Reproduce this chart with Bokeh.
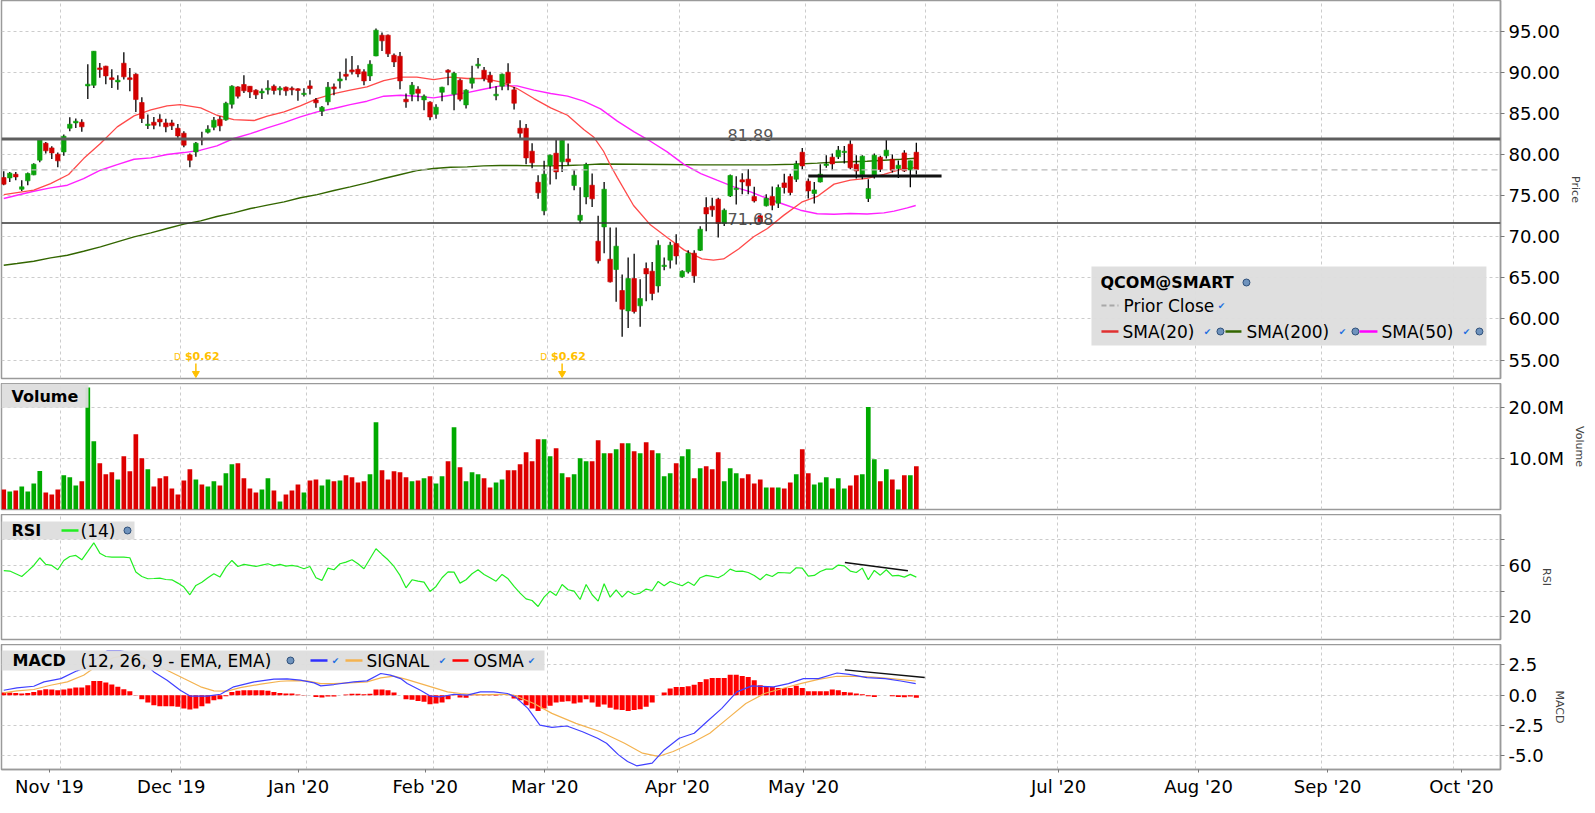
from bokeh.plotting import figure
from bokeh.layouts import column
from bokeh.models import Range1d, FixedTicker, NumeralTickFormatter, Span
from bokeh.core.properties import value
from bokeh.embed import file_html
from bokeh.resources import INLINE

# ---------------- data (QCOM daily, Oct 18 2019 .. May 28 2020) ----------------
open_ = [
77.20, 77.16, 77.61, 75.78, 76.80, 77.53, 79.31, 81.38, 80.81, 80.04,
80.32, 83.20, 83.85, 83.93, 88.35, 88.43, 90.54, 90.75, 89.33, 88.84,
91.11, 89.33, 89.77, 86.33, 83.53, 83.93, 84.30, 83.85, 83.85, 83.20,
82.60, 79.96, 80.32, 81.95, 82.72, 83.33, 84.30, 84.22, 86.12, 88.23,
88.52, 88.31, 87.83, 87.50, 87.87, 88.31, 87.87, 88.19, 88.07, 87.99,
87.30, 88.35, 86.65, 85.27, 86.41, 88.23, 88.96, 89.77, 90.30, 90.38,
90.06, 89.57, 92.00, 94.52, 94.52, 92.08, 91.96, 86.73, 87.34, 87.95,
86.65, 86.37, 84.91, 87.58, 90.26, 87.34, 89.04, 86.04, 88.68, 90.79,
90.26, 89.65, 87.14, 88.31, 90.02, 87.87, 83.20, 83.20, 80.41, 76.63,
73.15, 78.66, 80.16, 79.11, 79.47, 76.23, 72.01, 74.85, 76.27, 69.46,
71.20, 67.27, 66.01, 63.46, 60.98, 64.92, 61.59, 66.13, 65.81, 64.02,
66.38, 67.15, 69.17, 65.12, 65.73, 68.00, 68.36, 73.55, 73.72, 74.57,
71.61, 74.97, 75.74, 76.92, 77.00, 74.89, 72.54, 73.76, 74.89, 74.08,
76.55, 77.32, 77.00, 80.28, 76.76, 75.26, 76.67, 78.66, 79.68, 79.72,
80.24, 81.26, 78.82, 77.53, 74.65, 77.49, 79.68, 79.84, 79.43, 78.30,
80.20, 78.13, 80.28]

high = [
77.97, 77.89, 77.89, 76.88, 77.81, 78.95, 81.87, 81.54, 81.01, 80.24,
82.43, 84.54, 84.38, 84.30, 90.99, 92.60, 91.15, 90.80, 90.38, 89.65,
92.45, 90.54, 89.89, 86.97, 84.87, 84.58, 84.91, 84.34, 84.22, 83.73,
82.84, 80.12, 81.54, 82.76, 83.57, 84.58, 84.66, 86.41, 88.43, 88.31,
89.65, 88.35, 87.95, 88.03, 89.04, 88.52, 88.31, 88.27, 88.27, 88.07,
88.07, 89.04, 86.89, 85.92, 88.84, 88.64, 90.06, 91.68, 92.00, 90.87,
90.38, 91.48, 95.33, 94.84, 94.60, 92.29, 92.49, 87.42, 88.84, 88.31,
87.30, 86.49, 86.12, 88.25, 90.38, 90.06, 89.25, 87.95, 90.79, 91.76,
90.66, 90.06, 88.31, 89.85, 91.11, 88.23, 84.18, 83.73, 81.38, 77.49,
79.23, 80.00, 81.95, 81.87, 81.34, 78.09, 76.03, 78.99, 77.69, 72.54,
76.67, 71.12, 71.12, 65.40, 67.47, 67.92, 64.83, 66.86, 66.94, 69.58,
67.47, 69.38, 70.31, 65.93, 68.36, 68.36, 71.28, 74.81, 74.73, 74.73,
73.43, 77.57, 77.36, 77.73, 78.22, 76.07, 72.70, 75.17, 76.11, 76.35,
77.65, 77.65, 79.23, 80.81, 77.08, 76.67, 78.82, 79.92, 80.12, 81.05,
81.05, 81.74, 79.92, 79.92, 77.00, 80.12, 79.84, 81.82, 80.00, 79.27,
80.53, 79.27, 81.42]

low = [
76.27, 76.67, 76.88, 75.58, 76.27, 77.49, 79.07, 80.12, 79.47, 78.46,
79.84, 82.84, 83.24, 82.76, 86.77, 88.11, 89.33, 88.56, 88.11, 87.87,
89.12, 87.70, 85.19, 83.85, 83.12, 83.08, 83.41, 82.72, 83.00, 82.03,
80.89, 78.46, 79.72, 81.14, 82.55, 82.96, 82.84, 84.10, 85.60, 86.81,
87.50, 86.89, 86.77, 86.77, 87.30, 87.30, 87.22, 87.14, 87.22, 86.53,
87.06, 87.30, 85.68, 84.70, 86.00, 87.22, 88.03, 89.04, 89.73, 89.41,
88.43, 88.96, 91.95, 92.61, 91.88, 90.66, 87.95, 85.68, 86.49, 86.49,
85.39, 84.18, 84.34, 86.49, 88.43, 85.39, 86.49, 85.60, 88.03, 90.46,
88.92, 88.03, 86.61, 87.83, 87.83, 85.47, 81.95, 78.82, 78.34, 74.61,
72.62, 76.35, 77.00, 77.89, 78.70, 75.66, 71.61, 73.96, 73.63, 66.74,
68.00, 64.43, 62.08, 57.82, 58.91, 60.66, 59.04, 62.16, 62.28, 63.21,
65.93, 66.13, 66.62, 65.00, 65.52, 64.39, 68.28, 70.67, 72.42, 69.90,
71.32, 74.85, 73.92, 75.17, 75.17, 74.16, 71.73, 73.67, 73.23, 73.51,
75.26, 75.05, 76.67, 78.18, 74.65, 74.04, 76.59, 78.38, 78.09, 79.47,
78.91, 78.22, 77.08, 77.00, 74.24, 77.08, 77.89, 79.51, 77.81, 77.16,
77.89, 76.03, 77.57]

close = [
76.39, 77.73, 77.28, 76.07, 77.69, 78.82, 81.78, 80.45, 80.20, 79.23,
82.23, 83.69, 84.06, 83.37, 88.56, 92.57, 90.34, 89.57, 89.12, 89.04,
89.45, 89.12, 86.69, 84.38, 83.69, 83.57, 83.97, 83.37, 83.49, 82.27,
81.14, 79.31, 81.38, 81.78, 83.08, 84.18, 83.49, 86.24, 88.31, 87.10,
87.75, 87.62, 87.26, 87.70, 88.07, 87.79, 88.07, 87.75, 87.87, 87.79,
87.46, 88.03, 86.29, 85.76, 88.19, 87.99, 89.20, 89.53, 90.06, 89.81,
88.96, 90.99, 95.13, 93.83, 92.25, 91.27, 88.96, 86.41, 88.43, 87.46,
87.10, 84.58, 85.76, 88.19, 90.02, 89.89, 86.73, 87.83, 89.29, 90.99,
89.25, 88.80, 87.34, 89.77, 88.68, 86.24, 82.60, 79.59, 78.99, 75.34,
77.61, 79.92, 77.89, 81.74, 79.11, 77.49, 72.62, 78.78, 74.61, 67.07,
75.78, 64.51, 68.85, 61.18, 64.92, 60.90, 62.48, 65.48, 63.09, 68.97,
66.54, 68.97, 67.67, 65.81, 68.00, 65.24, 70.92, 72.78, 73.27, 71.61,
73.23, 77.45, 75.90, 76.67, 76.19, 74.36, 71.81, 74.69, 73.84, 75.99,
75.99, 75.38, 78.86, 78.62, 75.58, 75.70, 77.61, 78.86, 78.86, 80.53,
80.41, 78.38, 78.01, 79.80, 75.86, 79.92, 78.18, 80.53, 78.09, 78.70,
78.01, 79.23, 78.18]

volume_m = [
3.93, 3.54, 3.74, 4.52, 3.54, 5.11, 7.54, 3.34, 2.95, 3.93,
6.69, 6.30, 4.72, 5.51, 23.93, 13.38, 9.05, 6.89, 7.28, 5.90,
10.43, 7.48, 14.75, 10.03, 7.87, 4.52, 6.10, 6.49, 4.13, 2.95,
5.70, 7.87, 5.90, 4.92, 4.52, 5.51, 4.72, 7.08, 8.85, 9.05,
6.10, 4.13, 3.34, 3.93, 6.10, 3.74, 1.57, 2.95, 3.74, 4.92,
3.34, 5.70, 5.90, 4.72, 5.90, 5.51, 5.70, 6.69, 6.30, 5.31,
5.51, 6.89, 17.11, 7.67, 5.90, 7.48, 7.28, 6.30, 5.51, 5.70,
6.10, 6.49, 5.11, 6.49, 9.44, 16.13, 8.26, 5.51, 7.28, 6.89,
6.10, 4.33, 5.31, 5.90, 7.67, 7.67, 8.85, 11.21, 9.44, 13.77,
13.77, 10.43, 12.00, 7.08, 6.30, 6.89, 10.03, 9.44, 9.44, 13.57,
11.02, 11.02, 11.80, 12.98, 12.98, 11.41, 11.02, 13.18, 11.61, 11.02,
6.49, 7.08, 9.05, 10.43, 11.80, 6.10, 8.07, 8.46, 7.87, 11.21,
5.51, 8.07, 7.08, 6.10, 6.89, 5.11, 5.90, 4.33, 4.33, 4.33,
4.13, 5.31, 6.89, 11.80, 7.08, 4.92, 5.31, 6.30, 4.13, 6.10,
4.13, 4.72, 6.69, 6.89, 20.07, 9.84, 5.51, 7.87, 5.90, 3.93,
6.69, 6.69, 8.46]

rsi14 = [
56.0, 55.6, 53.5, 51.4, 55.6, 60.0, 66.0, 60.8, 60.0, 56.6,
63.9, 67.0, 67.8, 64.4, 71.0, 77.7, 69.6, 67.0, 66.5, 66.5,
66.5, 66.0, 54.8, 51.4, 49.6, 49.8, 50.1, 49.0, 48.8, 46.2,
43.1, 37.1, 44.4, 46.9, 50.4, 53.5, 50.9, 58.7, 63.9, 59.2,
60.8, 60.0, 59.2, 60.3, 61.3, 59.7, 60.8, 59.5, 60.0, 59.2,
57.4, 59.2, 50.4, 48.3, 57.9, 56.6, 61.3, 62.6, 64.4, 61.3,
57.4, 65.2, 73.0, 68.6, 64.4, 59.2, 52.2, 42.5, 48.8, 47.7,
47.0, 39.7, 43.6, 50.4, 55.0, 54.8, 46.2, 48.8, 53.5, 56.6,
53.0, 50.4, 47.7, 53.0, 49.6, 43.6, 38.4, 33.9, 32.6, 27.9,
35.2, 39.9, 36.5, 45.1, 41.0, 39.9, 33.4, 45.1, 37.1, 32.1,
45.7, 35.2, 41.0, 35.2, 39.9, 37.3, 38.4, 41.5, 40.4, 47.5,
44.1, 47.5, 45.7, 44.1, 47.0, 44.4, 50.4, 52.2, 51.4, 50.4,
53.0, 57.1, 55.3, 55.6, 54.5, 52.2, 48.8, 53.0, 51.4, 54.5,
54.3, 54.0, 58.2, 57.9, 51.7, 52.2, 55.3, 57.1, 57.1, 60.3,
59.7, 55.6, 54.5, 57.9, 48.8, 56.1, 52.4, 56.6, 51.9, 52.2,
50.9, 53.0, 50.9]

osma = [
0.22, 0.22, 0.19, 0.14, 0.19, 0.27, 0.41, 0.49, 0.47, 0.41,
0.47, 0.55, 0.63, 0.63, 0.82, 1.18, 1.18, 1.04, 0.88, 0.69,
0.49, 0.33, 0.02, -0.33, -0.60, -0.82, -0.91, -0.91, -0.91, -0.96,
-1.10, -1.18, -1.10, -0.91, -0.69, -0.41, -0.33, -0.08, 0.27, 0.36,
0.41, 0.41, 0.41, 0.41, 0.36, 0.27, 0.19, 0.14, 0.14, 0.05,
0.01, 0.0, -0.14, -0.19, -0.11, -0.11, 0.0, 0.05, 0.11, 0.11,
0.08, 0.11, 0.47, 0.47, 0.41, 0.22, 0.0, -0.33, -0.38, -0.47,
-0.55, -0.74, -0.69, -0.60, -0.33, 0.05, -0.19, -0.22, 0.03, 0.05,
0.05, 0.05, -0.05, 0.0, 0.0, -0.27, -0.41, -0.82, -1.09, -1.31,
-1.09, -0.87, -0.60, -0.55, -0.49, -0.68, -0.60, -0.33, -0.60, -0.96,
-0.77, -1.04, -1.17, -1.23, -1.31, -1.23, -1.15, -0.96, -0.60, 0.0,
0.22, 0.55, 0.68, 0.68, 0.74, 0.87, 1.09, 1.31, 1.42, 1.42,
1.42, 1.69, 1.69, 1.58, 1.50, 1.23, 0.82, 0.68, 0.68, 0.60,
0.60, 0.60, 0.77, 0.60, 0.33, 0.33, 0.33, 0.33, 0.46, 0.41,
0.27, 0.22, 0.14, 0.08, -0.08, -0.14, 0.0, 0.0, -0.08, -0.14,
-0.16, -0.11, -0.22]

sma20_x = [0, 5.0, 7.8, 10.8, 13.3, 16.1, 18.9, 21.7, 24.5, 27.2, 29.4, 32.8, 35.5, 38.3,
           41.7, 43.9, 46.7, 49.4, 52.2, 55.0, 57.7, 60.5, 63.3, 66.1, 68.8, 71.6, 74.4,
           77.2, 79.9, 82.7, 85.5, 88.3, 91.1, 93.9, 96.6, 98.3, 99.9, 101.05, 102.2,
           104.9, 107.7, 110.5, 113.3, 116.3, 118.2, 119.9, 122.4, 124.9, 127.2, 129.9,
           132.9, 135.5, 138.3, 141.0, 143.8, 146.6, 149.4, 152.0]
sma20_y = [75.13, 75.66, 76.47, 77.57, 79.51, 81.34, 83.37, 84.70, 85.43, 85.92, 86.08, 85.68,
           84.78, 84.26, 84.14, 84.66, 85.19, 85.92, 86.81, 87.42, 87.83, 88.23, 89.00, 89.41,
           89.41, 89.12, 89.41, 89.25, 89.25, 88.84, 88.03, 86.81, 85.68, 84.78, 83.04, 82.10,
           80.40, 78.70, 77.20, 73.80, 71.45, 69.90, 68.40, 67.30, 67.15, 67.30, 68.50, 70.00,
           71.00, 72.60, 74.20, 74.90, 76.40, 76.90, 77.10, 77.60, 78.20, 78.45]

sma50_x = [0, 2.2, 5.0, 7.8, 10.6, 13.3, 16.1, 18.9, 21.7, 24.5, 27.2, 30.0, 32.8, 35.5, 38.3,
           41.1, 43.9, 46.7, 49.4, 52.2, 55.0, 57.7, 60.5, 63.3, 66.1, 68.8, 71.6, 74.4, 77.2,
           79.9, 82.7, 85.5, 88.3, 91.1, 93.9, 96.6, 99.4, 102.2, 105.0, 107.7, 110.5, 113.3,
           116.1, 118.8, 121.6, 124.4, 127.2, 129.9, 132.7, 135.5, 138.3, 141.0, 143.8, 146.6,
           148.3, 150.5, 151.9]
sma50_y = [74.65, 75.05, 75.54, 75.95, 76.27, 77.08, 78.09, 78.78, 79.43, 79.59, 80.00, 80.24,
           80.53, 81.05, 81.95, 82.55, 83.24, 83.89, 84.58, 85.19, 85.60, 86.08, 86.49, 87.10,
           87.22, 87.10, 86.89, 87.22, 87.54, 87.95, 88.35, 88.35, 87.83, 87.42, 87.10, 86.49,
           85.55, 84.06, 82.76, 81.62, 80.32, 78.80, 77.69, 76.88, 76.07, 75.46, 74.65, 73.95,
           73.23, 72.80, 72.74, 72.82, 72.76, 72.90, 73.11, 73.51, 73.80]

sma200_x = [0, 2.2, 5.0, 7.8, 10.6, 13.3, 16.1, 18.9, 21.7, 24.5, 27.2, 30.0, 32.8, 35.5, 38.3,
            41.1, 43.9, 46.7, 49.4, 52.2, 55.0, 57.7, 60.5, 63.3, 66.1, 68.8, 71.6, 74.4, 77.2,
            79.9, 82.7, 85.5, 88.3, 91.1, 93.9, 96.6, 99.4, 105.0, 110.5, 116.1, 121.6, 127.2,
            131.6, 135.5, 138.3, 143.8, 149.4, 151.9]
sma200_y = [66.54, 66.74, 67.02, 67.43, 67.75, 68.24, 68.77, 69.38, 69.98, 70.47, 71.00, 71.53,
            71.93, 72.46, 72.90, 73.43, 73.84, 74.24, 74.75, 75.13, 75.62, 76.07, 76.55, 77.08,
            77.57, 78.05, 78.30, 78.46, 78.50, 78.62, 78.66, 78.66, 78.62, 78.62, 78.66, 78.74,
            78.85, 78.82, 78.78, 78.74, 78.74, 78.74, 78.82, 78.95, 79.07, 79.19, 79.43, 79.55]

macd_x = [0, 2.2, 5.0, 6.7, 9.5, 12.2, 13.9, 16.1, 17.2, 19.4, 21.1, 22.8, 25.0, 27.2, 29.4,
          31.1, 33.9, 36.1, 38.3, 41.7, 45.0, 47.2, 49.4, 51.7, 52.8, 55.0, 58.3, 60.5, 62.8,
          64.4, 66.1, 67.2, 69.4, 71.1, 72.7, 75.0, 77.2, 79.4, 81.6, 83.9, 85.2, 87.3, 89.3,
          91.3, 93.8, 96.4, 98.9, 100.4, 102.4, 103.9, 105.4, 108.0, 110.0, 112.5, 115.0,
          117.1, 119.6, 122.1, 124.6, 128.2, 130.7, 133.2, 135.7, 138.8, 140.8, 143.8, 146.8,
          149.4, 151.9]
macd_y = [0.41, 0.60, 0.74, 1.10, 1.37, 2.01, 2.34, 3.30, 3.65, 3.65, 3.49, 2.88, 1.92, 1.24,
          0.41, -0.08, -0.08, 0.08, 0.69, 1.10, 1.32, 1.35, 1.24, 1.02, 0.77, 0.88, 1.10, 1.18,
          1.79, 1.65, 1.37, 0.96, 0.41, -0.08, -0.14, 0.08, 0.0, 0.27, 0.27, 0.14, -0.14, -1.09,
          -2.46, -2.65, -2.54, -3.01, -3.55, -3.96, -4.92, -5.46, -5.82, -5.60, -4.51, -3.55,
          -3.14, -2.19, -1.09, 0.27, 0.77, 0.68, 0.96, 1.37, 1.37, 1.83, 1.72, 1.45, 1.37,
          1.17, 0.96]

signal_x = [0, 2.2, 5.0, 7.8, 10.6, 13.3, 16.1, 18.3, 20.6, 22.8, 25.0, 27.2, 30.0, 32.8, 35.0,
            37.2, 39.4, 42.8, 46.1, 48.3, 50.5, 52.8, 55.0, 58.3, 60.5, 62.8, 65.0, 67.2, 69.4,
            71.6, 73.9, 76.1, 78.3, 80.5, 82.7, 85.0, 88.3, 91.3, 95.3, 99.4, 103.4, 106.4,
            109.0, 111.5, 114.5, 117.6, 120.6, 123.6, 126.7, 129.7, 132.7, 135.7, 138.8, 141.8,
            144.8, 147.8, 151.9]
signal_y = [0.19, 0.36, 0.47, 0.82, 1.10, 1.65, 2.61, 3.10, 3.30, 3.16, 2.61, 2.06, 1.37, 0.69,
            0.36, 0.33, 0.63, 0.91, 1.15, 1.21, 1.18, 0.96, 0.96, 1.04, 1.10, 1.43, 1.57, 1.29,
            0.96, 0.63, 0.27, 0.14, 0.05, 0.05, 0.08, 0.0, -0.68, -1.50, -2.32, -3.01, -3.96,
            -4.78, -5.05, -4.64, -3.96, -3.14, -1.91, -0.68, 0.14, 0.55, 0.96, 1.31, 1.56, 1.56,
            1.50, 1.37, 1.17]

month_labels = ["Nov '19", "Dec '19", "Jan '20", "Feb '20", "Mar '20", "Apr '20", "May '20",
                "", "Jul '20", "Aug '20", "Sep '20", "Oct '20"]
month_first_idx = [10, 30, 51, 72, 91, 113, 134, 154, 176, 199, 220, 242]

price_levels = [81.89, 71.68]
prior_close = 78.14
dividend_idx = [32, 93]
dividend_amt = ["$0.62", "$0.62"]
trend_price = (134.0, 156.2, 77.4)
trend_rsi = ([140.1, 150.6], [62.3, 55.9])
trend_macd = ([140.1, 153.4], [2.09, 1.46])

# ---------------- layout helpers ----------------
FONT = "DejaVu Sans"
FW = 1499
H_PRICE, H_VOL, H_RSI, H_MACD = 378, 126, 125, 125
n = min(len(open_), len(high), len(low), len(close), len(volume_m), len(rsi14), len(osma))
idx = list(range(n))
UP, DN = "#0ba30b", "#d20000"
ccol = [UP if close[i] >= open_[i] else DN for i in idx]
vcol = ["#00aa00" if close[i] >= open_[i] else "#dd0000" for i in idx]

xr = Range1d(-0.376, 249.3)


def X(px):
    return (px - 3.26) / 6.004


def YP(py):
    return 98.74 - (py - 1) / 8.22


def YV(py):
    return 24.7 - (py - 387.7) / 5.1


def YR(py):
    return 99.8 - (py - 519) / 1.28


def YM(py):
    return 4.18 - (py - 651) / 12.13


grid_pos = [m - 0.5 for m in month_first_idx]


def make_fig(h, yr, top, bottom, label):
    p = figure(frame_width=FW, frame_height=h, x_range=xr, y_range=yr,
               y_axis_location="right", output_backend="svg", toolbar_location=None,
               min_border_left=1, min_border_right=86, min_border_top=top,
               min_border_bottom=bottom, background_fill_color="white",
               border_fill_color="white")
    p.outline_line_color = "#9a9a9a"
    p.outline_line_width = 1.5
    ax = p.yaxis[0]
    ax.axis_line_color = "#9a9a9a"
    ax.axis_line_width = 1.5
    ax.major_tick_out = 4
    ax.major_tick_in = 0
    ax.minor_tick_out = 0
    ax.minor_tick_in = 0
    ax.major_tick_line_color = "#777777"
    ax.major_label_text_font = FONT
    ax.major_label_text_font_size = "18px"
    ax.major_label_text_color = "#000000"
    ax.major_label_standoff = 4
    ax.axis_label = label
    ax.axis_label_text_font = FONT
    ax.axis_label_text_font_size = "11px"
    ax.axis_label_text_font_style = "normal"
    ax.axis_label_standoff = 6
    for g in (p.xgrid[0], p.ygrid[0]):
        g.grid_line_color = "#cccccc"
        g.grid_line_dash = "3 3"
        g.grid_line_width = 1
    p.xgrid[0].ticker = FixedTicker(ticks=grid_pos)
    p.xaxis.visible = False
    return p


def txt(p, x, y, s, size="17px", bold=False, color="#000000", align="left", base="middle",
        xo=0, yo=0, font=FONT):
    p.text(x=[x], y=[y], text=[s], text_font=value(font), text_font_size=size,
           text_font_style="bold" if bold else "normal", text_color=color,
           text_align=align, text_baseline=base, x_offset=xo, y_offset=yo)


def globe(p, x, y):
    p.scatter(x=[x], y=[y], marker="circle", size=7, fill_color="#6f93bd",
              line_color="#2f507a", line_width=1)


def check(p, x, y):
    txt(p, x, y, "\u2714", size="9px", color="#1f6fe0", align="center")


def box(p, x0, x1, y0, y1):
    p.quad(left=[x0], right=[x1], top=[y0], bottom=[y1], fill_color="#dddddd",
           fill_alpha=0.95, line_color=None)


# ---------------- price panel ----------------
p1 = make_fig(H_PRICE, Range1d(98.74 - H_PRICE / 8.22, 98.74), 0, 5, "Price")
p1.yaxis[0].ticker = FixedTicker(ticks=[55, 60, 65, 70, 75, 80, 85, 90, 95])
p1.yaxis[0].formatter = NumeralTickFormatter(format="0.00")

p1.add_layout(Span(location=prior_close, dimension="width", line_color="#bbbbbb",
                   line_dash="6 4", line_width=1.2))
p1.line(sma200_x, sma200_y, line_color="#336600", line_width=1.4)
p1.line(sma50_x, sma50_y, line_color="#ff22ff", line_width=1.4)
p1.line(sma20_x, sma20_y, line_color="#ff4a4a", line_width=1.3)
p1.segment(x0=idx, y0=high[:n], x1=idx, y1=low[:n], line_color="#000000", line_width=1.3)
p1.vbar(x=idx, width=0.76, top=[max(open_[i], close[i]) for i in idx],
        bottom=[min(open_[i], close[i]) for i in idx], fill_color=ccol, line_color=ccol,
        line_width=0.6)
p1.add_layout(Span(location=price_levels[0], dimension="width", line_color="#5e5e5e",
                   line_width=3))
p1.add_layout(Span(location=price_levels[1], dimension="width", line_color="#333333",
                   line_width=1.5))
for lv in price_levels:
    txt(p1, X(750), lv, "%.2f" % lv, size="16px", color="#555555", align="center",
        base="alphabetic", yo=-4)
p1.line([trend_price[0], trend_price[1]], [trend_price[2]] * 2, line_color="#111111",
        line_width=3)

for di, amt in zip(dividend_idx, dividend_amt):
    txt(p1, di, YP(357), "D", size="9px", color="#ffc000", align="right", xo=-15)
    txt(p1, di, YP(357), amt, size="11px", bold=True, color="#ffc000", align="left", xo=-11)
    p1.segment(x0=[di], y0=[YP(364)], x1=[di], y1=[YP(372)], line_color="#ffc000",
               line_width=1.5)
    p1.scatter(x=[di], y=[YP(374)], marker="inverted_triangle", size=7,
               fill_color="#ffc000", line_color="#ffc000")

# legend box
box(p1, X(1091), X(1486), YP(267), YP(346))
txt(p1, X(1100), YP(283), "QCOM@SMART", size="16px", bold=True)
globe(p1, X(1246), YP(283))
p1.segment(x0=[X(1101)], y0=[YP(306)], x1=[X(1118)], y1=[YP(306)], line_color="#a8a8a8",
           line_width=2, line_dash="5 3")
txt(p1, X(1123), YP(306), "Prior Close")
check(p1, X(1221), YP(306))
for (lx0, lx1, col, lab, tx, cx, gx) in [
        (1101, 1118, "#e03030", "SMA(20)", 1122, 1207, 1220),
        (1225, 1241, "#336600", "SMA(200)", 1246, 1342, 1355),
        (1359, 1377, "#ff00ff", "SMA(50)", 1381, 1466, 1479)]:
    p1.segment(x0=[X(lx0)], y0=[YP(332)], x1=[X(lx1)], y1=[YP(332)], line_color=col,
               line_width=2.5)
    txt(p1, X(tx), YP(332), lab)
    check(p1, X(cx), YP(332))
    globe(p1, X(gx), YP(332))

# ---------------- volume panel ----------------
p2 = make_fig(H_VOL, Range1d(24.7 - H_VOL / 5.1, 24.7), 0, 5, "Volume")
p2.yaxis[0].ticker = FixedTicker(ticks=[10, 20])
p2.yaxis[0].major_label_overrides = {10: "10.0M", 20: "20.0M"}
p2.vbar(x=idx, width=0.78, top=volume_m[:n], bottom=0, fill_color=vcol, line_color=None)
box(p2, X(1), X(88), YV(388), YV(412))
txt(p2, X(11), YV(401), "Volume", size="16px", bold=True)

# ---------------- RSI panel ----------------
p3 = make_fig(H_RSI, Range1d(99.8 - H_RSI / 1.28, 99.8), 0, 5, "RSI")
p3.yaxis[0].ticker = FixedTicker(ticks=[20, 40, 60, 80])
p3.yaxis[0].major_label_overrides = {40: "", 80: ""}
p3.line(idx, rsi14[:n], line_color="#22ee22", line_width=1.2)
p3.line(trend_rsi[0], trend_rsi[1], line_color="#111111", line_width=1.4)
box(p3, X(1), X(134), YR(526), YR(544))
txt(p3, X(11), YR(535), "RSI", size="16px", bold=True)
p3.segment(x0=[X(61)], y0=[YR(535)], x1=[X(78)], y1=[YR(535)], line_color="#22ee22",
           line_width=2.5)
txt(p3, X(80), YR(535), "(14)")
globe(p3, X(127), YR(535))

# ---------------- MACD panel ----------------
p4 = make_fig(H_MACD, Range1d(4.18 - H_MACD / 12.13, 4.18), 0, 0, "MACD")
p4.yaxis[0].ticker = FixedTicker(ticks=[-5, -2.5, 0, 2.5])
p4.yaxis[0].formatter = NumeralTickFormatter(format="0.0")
p4.vbar(x=idx, width=0.84, top=osma[:n], bottom=0, fill_color="#ff0000", line_color=None)
p4.line(signal_x, signal_y, line_color="#f4b350", line_width=1.2)
p4.line(macd_x, macd_y, line_color="#4040ff", line_width=1.2)
p4.line(trend_macd[0], trend_macd[1], line_color="#111111", line_width=1.4)
box(p4, X(1), X(544), YM(657), YM(677))
txt(p4, X(12), YM(667), "MACD", size="16px", bold=True)
txt(p4, X(80), YM(667), "(12, 26, 9 - EMA, EMA)")
globe(p4, X(290), YM(667))
for (lx0, lx1, col, lab, tx, cx) in [(310, 327, "#3030ff", "", 0, 335),
                                     (345, 362, "#f4b350", "SIGNAL", 366, 442),
                                     (452, 468, "#ff0000", "OSMA", 473, 531)]:
    p4.segment(x0=[X(lx0)], y0=[YM(667)], x1=[X(lx1)], y1=[YM(667)], line_color=col,
               line_width=2.5)
    if lab:
        txt(p4, X(tx), YM(667), lab)
    check(p4, X(cx), YM(667))

xa = p4.xaxis[0]
xa.visible = True
label_shift = [-1.9, -1.6, -1.4, -1.3, -0.4, -0.3, -0.3, 0.0, 0.2, 0.5, 1.0, 1.3]
label_pos = []
overrides = {}
for g, s, lab in zip(grid_pos, label_shift, month_labels):
    if lab:
        pos = round(g + s, 1)
        label_pos.append(pos)
        overrides[pos] = lab
xa.ticker = FixedTicker(ticks=label_pos)
xa.major_label_overrides = overrides
xa.axis_line_color = "#9a9a9a"
xa.axis_line_width = 1.5
xa.major_tick_out = 3
xa.major_tick_in = 0
xa.minor_tick_out = 0
xa.minor_tick_in = 0
xa.major_tick_line_color = "#777777"
xa.major_label_text_font = FONT
xa.major_label_text_font_size = "18px"
xa.major_label_text_color = "#000000"
xa.major_label_standoff = 3

layout = column(p1, p2, p3, p4, spacing=0)
open("out.html", "w").write(file_html(layout, INLINE))
